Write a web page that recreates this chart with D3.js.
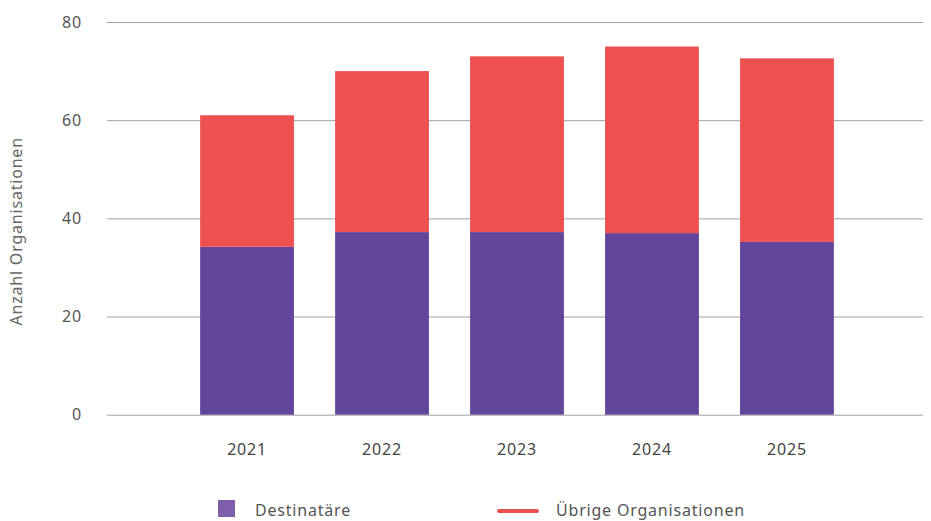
<!DOCTYPE html>
<html>
<head>
<meta charset="utf-8">
<script src="https://cdn.jsdelivr.net/npm/d3@7"></script>
<style>
  body { margin: 0; background: #fff; }
  svg { display: block; font-family: "Noto Sans", sans-serif; }
  svg text { letter-spacing: 0.8px; }
</style>
</head>
<body>
<div id="chart"></div>
<script>
// values
var years = ["2021", "2022", "2023", "2024", "2025"];
var destinataere = [34.2, 37.2, 37.2, 37.0, 35.2];
var uebrige = [26.8, 32.8, 35.8, 38.0, 37.4];
var yTicks = [0, 20, 40, 60, 80];
var seriesNames = ["Destinatäre", "Übrige Organisationen"];
var seriesColors = ["#63469b", "#ee4f4f"];

var width = 931, height = 521;
var margins = {top: 22, right: 8, bottom: 106, left: 107};
var fontFamily = "'Noto Sans', sans-serif";

var svg = d3.select("#chart").append("svg")
  .attr("width", width)
  .attr("height", height);

var xScale = d3.scaleBand()
  .domain(years)
  .range([margins.left, 927])
  .paddingInner(0.305)
  .paddingOuter(0.69);

var yScale = d3.scaleLinear()
  .domain([0, 80])
  .range([height - margins.bottom - 0.3, margins.top]);

// gridlines + y labels
var yAxis = d3.axisLeft(yScale)
  .tickValues(yTicks)
  .tickSize(-(width - margins.right - margins.left))
  .tickPadding(25);

var yAxisG = svg.append("g")
  .attr("transform", "translate(" + margins.left + ",0)")
  .call(yAxis);
yAxisG.select(".domain").remove();
yAxisG.selectAll("line").attr("stroke", "#a0a0a0").attr("stroke-width", 1);
yAxisG.selectAll("text")
  .attr("fill", "#555")
  .attr("font-size", 16)
  .style("font-family", fontFamily);

// stacked bars
var rows = years.map(function(y, i) {
  return {year: y, d: destinataere[i], u: uebrige[i]};
});
var stack = d3.stack().keys(["d", "u"]);
var layers = stack(rows);

svg.append("g").selectAll("g")
  .data(layers)
  .join("g")
  .attr("fill", function(d, i) { return seriesColors[i]; })
  .selectAll("rect")
  .data(function(d) { return d; })
  .join("rect")
  .attr("x", function(d) { return xScale(d.data.year); })
  .attr("width", xScale.bandwidth())
  .attr("y", function(d) { return yScale(d[1]); })
  .attr("height", function(d) { return yScale(d[0]) - yScale(d[1]); });

// x labels
var xAxis = d3.axisBottom(xScale).tickSize(0).tickPadding(29);
var xAxisG = svg.append("g")
  .attr("transform", "translate(0," + yScale(0) + ")")
  .call(xAxis);
xAxisG.select(".domain").remove();
xAxisG.selectAll("text")
  .attr("fill", "#444")
  .attr("font-size", 16)
  .style("font-family", fontFamily);

// y title
svg.append("text")
  .attr("transform", "translate(22," + ((yScale(0) + yScale(80)) / 2 + 13) + ") rotate(-90)")
  .attr("text-anchor", "middle")
  .attr("fill", "#666")
  .attr("font-size", 16)
  .text("Anzahl Organisationen");

// legend (sits right at the bottom edge, like the original)
var legend = svg.append("g");
legend.append("rect")
  .attr("x", 218).attr("y", 500)
  .attr("width", 17).attr("height", 17)
  .attr("fill", "#7f5fab");
legend.append("text")
  .attr("x", 255).attr("y", 516)
  .attr("fill", "#555")
  .attr("font-size", 16)
  .text(seriesNames[0]);
legend.append("line")
  .attr("x1", 499).attr("x2", 537)
  .attr("y1", 511).attr("y2", 511)
  .attr("stroke", seriesColors[1])
  .attr("stroke-width", 4)
  .attr("stroke-linecap", "round");
legend.append("text")
  .attr("x", 556).attr("y", 516)
  .attr("fill", "#555")
  .attr("font-size", 16)
  .text(seriesNames[1]);
</script>
</body>
</html>
